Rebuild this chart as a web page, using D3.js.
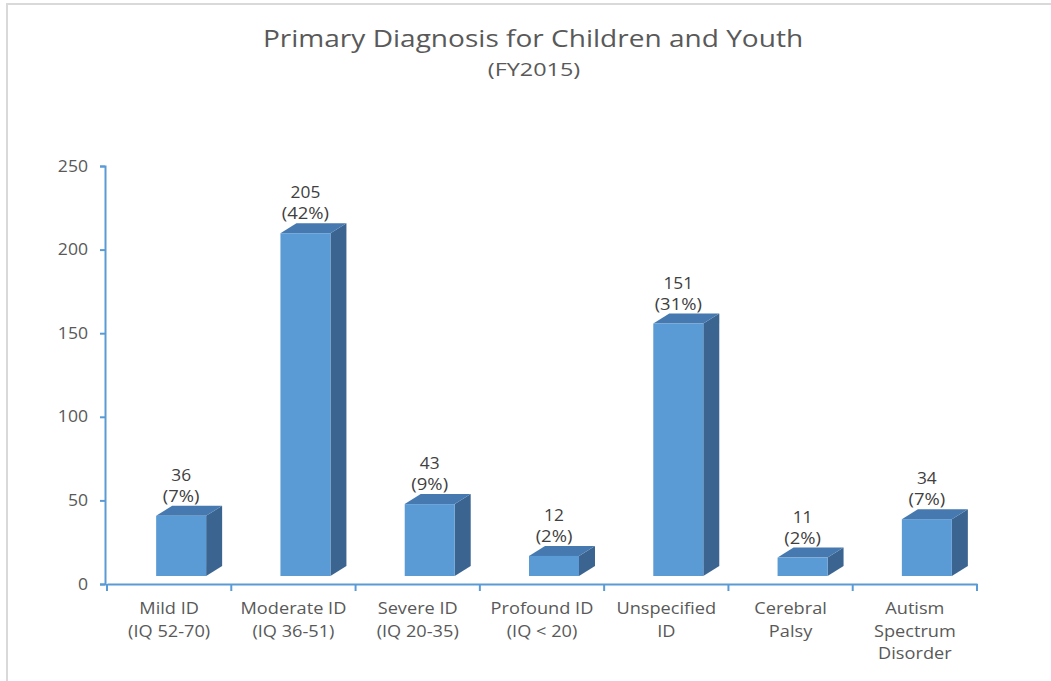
<!DOCTYPE html>
<html><head><meta charset="utf-8">
<script src="https://cdn.jsdelivr.net/npm/d3@7"></script>
<style>body{margin:0;background:#fff}svg{display:block}text{font-family:"Open Sans",sans-serif}</style>
</head><body>
<script>
const categories = [["Mild ID","(IQ 52-70)"],["Moderate ID","(IQ 36-51)"],["Severe ID","(IQ 20-35)"],["Profound ID","(IQ < 20)"],["Unspecified","ID"],["Cerebral","Palsy"],["Autism","Spectrum","Disorder"]];
const values = [36,205,43,12,151,11,34];
const percents = ["(7%)","(42%)","(9%)","(2%)","(31%)","(2%)","(7%)"];
const yTicks = [0,50,100,150,200,250];

const W=1051,H=681;
const svg=d3.select("body").append("svg").attr("width",W).attr("height",H);
svg.append("rect").attr("x",7).attr("y",4).attr("width",1100).attr("height",800)
  .attr("fill","none").attr("stroke","#d9d9d9").attr("stroke-width",2);

function stext(parent,x,y,str,size,sx,fill){
  return parent.append("text").attr("transform",`translate(${x},${y}) scale(${sx},1)`)
    .attr("text-anchor","middle").attr("font-size",size).attr("fill",fill).text(str);
}

stext(svg,533,47,"Primary Diagnosis for Children and Youth",23,1.22,"#595959");
stext(svg,534,75.5,"(FY2015)",18,1.3,"#595959");

const x=d3.scaleBand().domain(d3.range(categories.length)).range([107,977]);
const y=d3.scaleLinear().domain([0,250]).range([584,166]);
const yb=d3.scaleLinear().domain([0,250]).range([576,158]);
const dx=16,dy=-10,bw=50,off=-13;

const gy=svg.append("g").attr("transform","translate(105,0)")
  .call(d3.axisLeft(y).tickValues(yTicks).tickSize(5).tickFormat(""));
gy.select(".domain").attr("stroke","#5b9bd5").attr("stroke-width",2);
gy.selectAll(".tick line").attr("stroke","#5b9bd5").attr("stroke-width",2);
yTicks.forEach(t=>{
  svg.append("text").attr("transform",`translate(88,${y(t)+5.5}) scale(1.1,1)`)
    .attr("text-anchor","end").attr("font-size",16).attr("fill","#595959").text(t);
});

const gx=svg.append("g").attr("transform","translate(0,584)")
  .call(d3.axisBottom(x).tickSize(0).tickFormat(""));
gx.select(".domain").attr("stroke","#5b9bd5").attr("stroke-width",2);
const tickXs=d3.range(categories.length+1).map(i=>i<categories.length?x(i):x.range()[1]);
svg.selectAll(".xt").data(tickXs).join("line").attr("x1",d=>d).attr("x2",d=>d)
  .attr("y1",584).attr("y2",591).attr("stroke","#5b9bd5").attr("stroke-width",2);

categories.forEach((lines,i)=>{
  const cx=x(i)+x.bandwidth()/2;
  lines.forEach((l,j)=>stext(svg,cx,614+j*22.5,l,17,1.07,"#595959"));
});

values.forEach((v,i)=>{
  const x0=x(i)+x.bandwidth()/2+off, x1=x0+bw;
  const yt=yb(v), y0=yb(0);
  const g=svg.append("g");
  g.append("polygon").attr("points",`${x1},${yt} ${x1+dx},${yt+dy} ${x1+dx},${y0+dy} ${x1},${y0}`).attr("fill","#3b6590");
  g.append("polygon").attr("points",`${x0},${yt} ${x0+dx},${yt+dy} ${x1+dx},${yt+dy} ${x1},${yt}`).attr("fill","#4679b0");
  g.append("rect").attr("x",x0).attr("y",yt).attr("width",bw).attr("height",y0-yt).attr("fill","#5b9bd5");
  const lx=x0+bw/2;
  stext(svg,lx,yt+dy-25,v,16.5,1.05,"#404040");
  stext(svg,lx,yt+dy-4,percents[i],16.5,1.12,"#404040");
});
</script>
</body></html>
